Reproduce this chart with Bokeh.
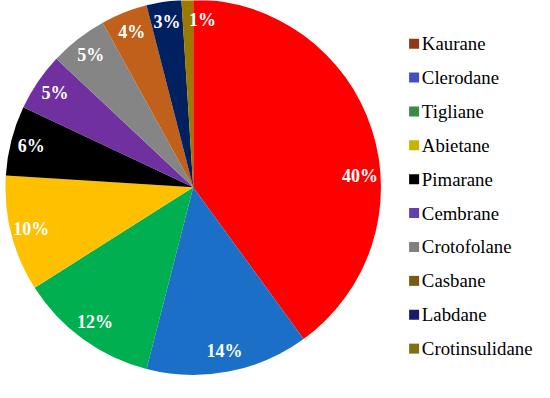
import numpy as np
from bokeh.plotting import figure
from bokeh.models import ColumnDataSource, Range1d
from bokeh.core.properties import value
from bokeh.embed import file_html
from bokeh.resources import INLINE

# ---- data ----
categories = ["Kaurane", "Clerodane", "Tigliane", "Abietane", "Pimarane",
              "Cembrane", "Crotofolane", "Casbane", "Labdane", "Crotinsulidane"]
percent = [40, 14, 12, 10, 6, 5, 5, 4, 3, 1]
slice_colors = ["#FF0000", "#1B6FC6", "#00B050", "#FFC000", "#000000",
                "#7030A0", "#858585", "#C0601A", "#002060", "#9C7A00"]
legend_colors = ["#8B3A1A", "#4050C0", "#3A8A4A", "#C8B400", "#000000",
                 "#6040B0", "#808080", "#7A5A10", "#1A1A70", "#807010"]
label_shift_deg = [-14, 0, 0, 0, 0, 0, 0, 0, 0, -5]

W, H = 534, 382
sx, sy = W / 550, H / 398
s = (sx + sy) / 2
cx, cy, R = 198.5 * sx, H - 194.5 * sy, 194.5 * s

frac = np.array(percent, dtype=float) / sum(percent)
cum = np.concatenate([[0], np.cumsum(frac)])
start = np.pi / 2 - cum[:-1] * 2 * np.pi
end = np.pi / 2 - cum[1:] * 2 * np.pi
mid = (start + end) / 2 + np.radians(label_shift_deg)

src = ColumnDataSource(dict(start=start, end=end, color=slice_colors))

p = figure(width=W, height=H, output_backend="svg", toolbar_location=None,
           x_range=Range1d(0, W), y_range=Range1d(0, H), min_border=0)
p.axis.visible = False
p.grid.visible = False
p.outline_line_color = None
p.background_fill_color = "white"

p.wedge(x=cx, y=cy, radius=R, start_angle="start", end_angle="end",
        direction="clock", fill_color="color", line_color=None, source=src)

lr = 0.89 * R
lab = ColumnDataSource(dict(x=cx + lr * np.cos(mid), y=cy + lr * np.sin(mid),
                            t=[f"{v}%" for v in percent]))
p.text(x="x", y="y", text="t", source=lab, text_color="white",
       text_font=value("Liberation Serif"), text_font_style="bold",
       text_font_size="18px", text_align="center", text_baseline="middle")

# legend (manual)
idx = np.arange(len(categories))
ly = H - (45 + 35.3 * idx) * sy
leg = ColumnDataSource(dict(x=np.full(len(idx), 426 * sx), tx=np.full(len(idx), 434 * sx),
                            y=ly, c=legend_colors, t=categories))
p.scatter(x="x", y="y", marker="square", size=10, fill_color="c", line_color=None, source=leg)
p.text(x="tx", y="y", text="t", source=leg, text_color="black",
       text_font=value("Liberation Serif"), text_font_size="18.8px",
       text_align="left", text_baseline="middle")

open("out.html", "w").write(file_html(p, INLINE))
